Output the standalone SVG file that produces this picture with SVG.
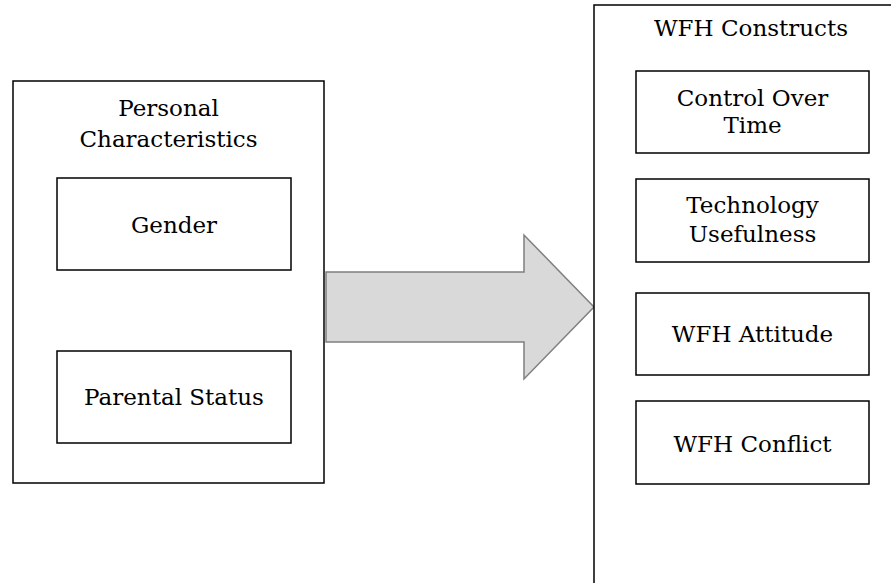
<svg xmlns="http://www.w3.org/2000/svg" width="891" height="583" viewBox="0 0 891 583">
<style>
.box{fill:#fff;stroke:#000;stroke-width:1.5}
.t{font-family:"DejaVu Serif","Liberation Serif",serif;font-size:23px;fill:#000;text-anchor:middle}
.arrow{fill:#d9d9d9;stroke:#7f7f7f;stroke-width:1.5}
</style>
<rect width="891" height="583" fill="#fff"/>
<g id="personal">
<rect class="box" x="13" y="81" width="311" height="402"/>
<text class="t" x="168.5" y="115.5">Personal</text>
<text class="t" x="168.5" y="146.5">Characteristics</text>
</g>
<g id="gender">
<rect class="box" x="57" y="178" width="234" height="92"/>
<text class="t" x="174" y="233">Gender</text>
</g>
<g id="parental">
<rect class="box" x="57" y="351" width="234" height="92"/>
<text class="t" x="174" y="405">Parental Status</text>
</g>
<g id="connectors">
<polygon class="arrow" points="326,272 524,272 524,235 594,307 524,379 524,342 326,342"/>
</g>
<g id="wfh">
<rect class="box" x="594" y="5" width="310" height="600"/>
<text class="t" x="751" y="36">WFH Constructs</text>
</g>
<g id="control">
<rect class="box" x="636" y="71" width="233" height="82"/>
<text class="t" x="752.5" y="106">Control Over</text>
<text class="t" x="752.5" y="133">Time</text>
</g>
<g id="technology">
<rect class="box" x="636" y="179" width="233" height="83"/>
<text class="t" x="752.5" y="213">Technology</text>
<text class="t" x="752.5" y="241.5">Usefulness</text>
</g>
<g id="attitude">
<rect class="box" x="636" y="293" width="233" height="82"/>
<text class="t" x="752.5" y="342">WFH Attitude</text>
</g>
<g id="conflict">
<rect class="box" x="636" y="401" width="233" height="83"/>
<text class="t" x="752.5" y="452">WFH Conflict</text>
</g>
</svg>
